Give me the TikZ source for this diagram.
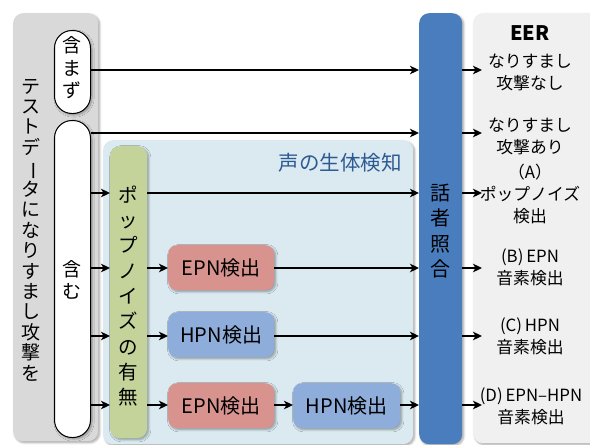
\documentclass[tikz,border=0pt]{standalone}
\usepackage{fontspec}
\setmainfont{Noto Sans CJK JP}
\usetikzlibrary{arrows.meta,shadows.blur,calc}
\definecolor{panelgray}{HTML}{D9D9D9}
\definecolor{panellight}{HTML}{F0F0F0}
\definecolor{liveblue}{HTML}{DAEAF0}
\definecolor{popgreen}{HTML}{C3D39A}
\definecolor{epnpink}{HTML}{D9938F}
\definecolor{hpnblue}{HTML}{8FADDA}
\definecolor{spkblue}{HTML}{4A7DBD}
\definecolor{titleblue}{HTML}{2E5A94}
\begin{document}
\begin{tikzpicture}[x=1pt,y=-1pt,
  shd/.style={blur shadow={shadow xshift=1.5pt,shadow yshift=-1.5pt,shadow blur steps=6,shadow opacity=35}},
  panel/.style={shd,draw=none,inner sep=0pt,anchor=north west,rounded corners=10pt},
  pill/.style={draw=black,line width=1pt,fill=white,inner sep=0pt,anchor=north west,rounded corners=17.5pt,minimum width=36pt,shd},
  detbox/.style={shd,draw=none,rounded corners=9pt,inner sep=0pt,anchor=north west,minimum width=106pt,minimum height=45pt,font=\fontsize{20}{22}\selectfont},
  arr/.style={-{Stealth[length=9pt,width=8.5pt,inset=2.5pt]},line width=1.7pt},
  vtxt/.style={align=center,inner sep=0pt},
  restxt/.style={align=center,inner sep=0pt,font=\fontsize{16.8}{22}\selectfont}
]
\useasboundingbox (0,0) rectangle (590,445);

% panels
\node[panel,fill=panelgray,minimum width=85pt,minimum height=428pt] (test) at (13,13) {};
\node[panel,fill=panellight,minimum width=130pt,minimum height=430pt] (eer) at (473,13) {};
\node[panel,fill=liveblue,minimum width=310pt,minimum height=304pt] (live) at (103,140) {};
\node[panel,fill=popgreen,minimum width=37pt,minimum height=292pt] (pop) at (110,146) {};
\node[panel,fill=spkblue,minimum width=43pt,minimum height=431pt] (spk) at (419,13) {};

% pills
\node[pill,minimum height=83pt] (nomask) at (54,30) {};
\node[pill,minimum height=317pt] (mask) at (54,120) {};

% texts
\node[vtxt,font=\fontsize{19}{20.4}\selectfont] (testtxt) at (31,230) {テ\\ス\\ト\\デ\\\rotatebox[origin=c]{-90}{ー}\\タ\\に\\な\\り\\す\\ま\\し\\攻\\撃\\を};
\node[vtxt,font=\fontsize{19}{22.5}\selectfont] (nomasktxt) at (72,68) {含\\ま\\ず};
\node[vtxt,font=\fontsize{19}{22}\selectfont] (masktxt) at (72,280) {含\\む};
\node[vtxt,font=\fontsize{19.5}{25.3}\selectfont] (poptxt) at (128.5,296) {ポ\\ッ\\プ\\ノ\\イ\\ズ\\の\\有\\無};
\node[vtxt,font=\fontsize{20}{25.5}\selectfont] (spktxt) at (440.5,231) {話\\者\\照\\合};
\node[inner sep=0pt,font=\fontsize{20.5}{22}\selectfont,text=titleblue] (livetxt) at (340,163) {声の生体検知};
\node[inner sep=0pt,font=\bfseries\fontsize{20}{22}\selectfont] (eertxt) at (530,33) {EER};

% detector boxes
\node[detbox,fill=epnpink] (epn1) at (168,245) {EPN検出};
\node[detbox,fill=hpnblue] (hpn1) at (168,312) {HPN検出};
\node[detbox,fill=epnpink] (epn2) at (168,383) {EPN検出};
\node[detbox,fill=hpnblue,minimum width=107pt] (hpn2) at (293,383) {HPN検出};

% result texts
\node[restxt] (resN) at (530,72) {なりすまし\\攻撃なし};
\node[restxt] (resS) at (530,136) {なりすまし\\攻撃あり};
\node[restxt] (resA) at (530,194) {（A）\\ポップノイズ\\検出};
\node[restxt] (resB) at (530,267) {(B)\,EPN\\音素検出};
\node[restxt] (resC) at (530,336) {(C)\,HPN\\音素検出};
\node[restxt] (resD) at (531,406) {(D)\,EPN–HPN\\音素検出};

% row coordinates
\coordinate (r1) at (0,70);
\coordinate (r2) at (0,133);
\coordinate (r3) at (0,193);
\coordinate (r4) at (0,268);
\coordinate (r5) at (0,336);
\coordinate (r6) at (0,405);
\coordinate (tipx) at (482,0);

% connectors
\draw[arr] (nomask.east |- r1) -- (spk.west |- r1);
\draw[arr] (mask.east |- r2) -- (spk.west |- r2);
\draw[arr] (mask.east |- r3) -- (pop.west |- r3);
\draw[arr] (pop.east |- r3) -- (spk.west |- r3);
\draw[arr] (mask.east |- r4) -- (pop.west |- r4);
\draw[arr] (pop.east |- r4) -- (epn1.west |- r4);
\draw[arr] (epn1.east |- r4) -- (spk.west |- r4);
\draw[arr] (mask.east |- r5) -- (pop.west |- r5);
\draw[arr] (pop.east |- r5) -- (hpn1.west |- r5);
\draw[arr] (hpn1.east |- r5) -- (spk.west |- r5);
\draw[arr] (mask.east |- r6) -- (pop.west |- r6);
\draw[arr] (pop.east |- r6) -- (epn2.west |- r6);
\draw[arr] (epn2.east |- r6) -- (hpn2.west |- r6);
\draw[arr] (hpn2.east |- r6) -- (spk.west |- r6);
\foreach \r in {r1,r2,r3,r4,r5,r6}
  \draw[arr] (spk.east |- \r) -- (tipx |- \r);
\end{tikzpicture}
\end{document}
